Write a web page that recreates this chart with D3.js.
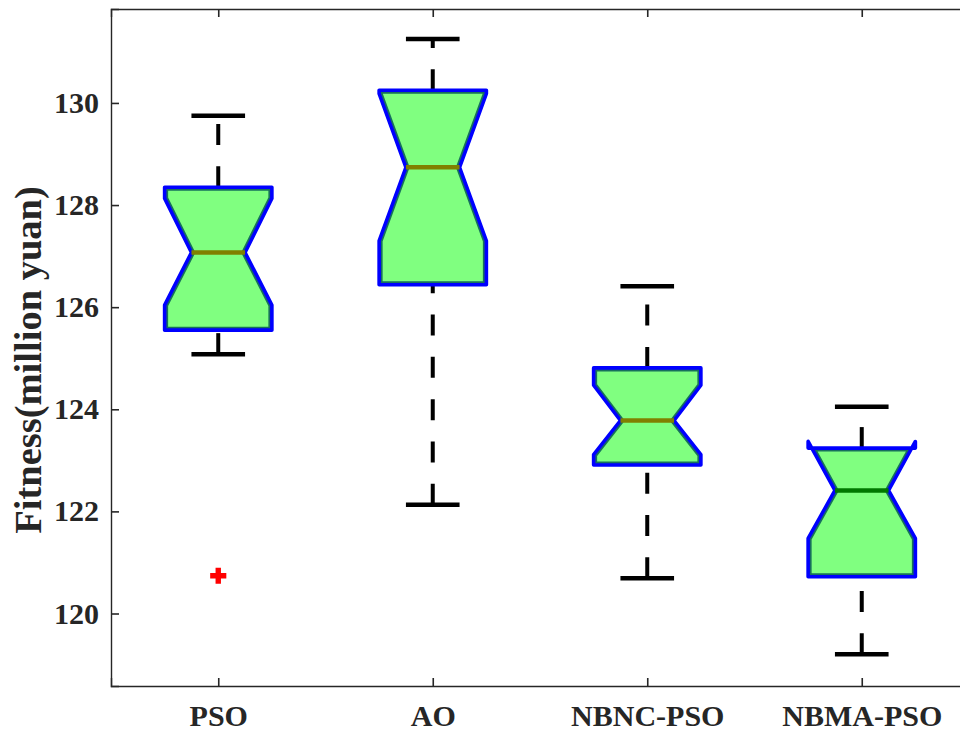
<!DOCTYPE html>
<html>
<head>
<meta charset="utf-8">
<script src="https://cdn.jsdelivr.net/npm/d3@7"></script>
<style>
  html, body { margin: 0; padding: 0; background: #fff; }
  svg { display: block; }
  text { font-family: "Liberation Serif", "Times New Roman", serif; font-weight: bold; fill: #262626; }
</style>
</head>
<body>
<svg id="chart" width="960" height="733"></svg>
<script>
// Notched box-plot statistics for each optimiser
const categories   = ["PSO", "AO", "NBNC-PSO", "NBMA-PSO"];
const upperAdjacent = [129.75, 131.25, 126.41, 124.05];
const upperQuartile = [128.35, 130.25, 124.81, 123.24];
const notchHigh     = [128.13, 130.18, 124.47, 123.37];
const medians       = [127.07, 128.74, 123.78, 122.41];
const notchLow      = [126.04, 127.30, 123.11, 121.47];
const lowerQuartile = [125.55, 126.44, 122.91, 120.72];
const lowerAdjacent = [125.08, 122.13, 120.69, 119.20];
const outlierGroup  = ["PSO"];
const outlierValue  = [120.74];
const yTicks        = [120, 122, 124, 126, 128, 130];
const medianColors  = ["#808000", "#808000", "#808000", "#007800"];

const svg = d3.select("#chart");
const plot = { left: 111, right: 969, top: 9, bottom: 686 };
const axisColor = "#262626";

const x = d3.scaleLinear().domain([0.5, categories.length + 0.5]).range([plot.left, plot.right]);
const y = d3.scaleLinear().domain([118.58, 131.84]).range([plot.bottom, plot.top]);
const pos = c => x(categories.indexOf(c) + 1);

const boxW = x(1.5) - x(1);        // 0.5 category units
const capW = x(1.25) - x(1);       // 0.25 category units

const boxes = categories.map((c, i) => ({
  c, i,
  hi: upperAdjacent[i], q3: upperQuartile[i], nHi: notchHigh[i], med: medians[i],
  nLo: notchLow[i], q1: lowerQuartile[i], lo: lowerAdjacent[i]
}));

// Whiskers: dashed segments drawn from the lower end upward, then caps
const whiskers = svg.append("g");
boxes.forEach(b => {
  const cx = pos(b.c);
  [[b.q3, b.hi], [b.lo, b.q1]].forEach(([from, to]) => {
    whiskers.append("line")
      .attr("x1", cx).attr("x2", cx)
      .attr("y1", y(from)).attr("y2", y(to))
      .attr("stroke", "#000").attr("stroke-width", 4)
      .attr("stroke-dasharray", "21,21.3");
  });
  [b.hi, b.lo].forEach(v => {
    whiskers.append("line")
      .attr("x1", cx - capW / 2).attr("x2", cx + capW / 2)
      .attr("y1", y(v)).attr("y2", y(v))
      .attr("stroke", "#000").attr("stroke-width", 4.5);
  });
});

// Notched boxes
const defs = svg.append("defs");
const boxG = svg.append("g");
boxes.forEach(b => {
  const cx = pos(b.c);
  const L = cx - boxW / 2, R = cx + boxW / 2;
  const wl = cx - boxW / 4, wr = cx + boxW / 4;
  const pts = [
    [L, y(b.q1)], [L, y(b.nLo)], [wl, y(b.med)], [L, y(b.nHi)], [L, y(b.q3)],
    [R, y(b.q3)], [R, y(b.nHi)], [wr, y(b.med)], [R, y(b.nLo)], [R, y(b.q1)]
  ];
  const d = d3.line()(pts) + "Z";
  defs.append("clipPath").attr("id", "clip" + b.i).append("path").attr("d", d);
  boxG.append("path").attr("d", d).attr("fill", "#80ff80");
  boxG.append("path").attr("d", d)
    .attr("fill", "none").attr("stroke", "#17705c").attr("stroke-width", 7)
    .attr("stroke-linejoin", "round")
    .attr("clip-path", "url(#clip" + b.i + ")");
  boxG.append("path").attr("d", d)
    .attr("fill", "none").attr("stroke", "#0000ff").attr("stroke-width", 3.6)
    .attr("stroke-linejoin", "round");
  boxG.append("line")
    .attr("x1", wl).attr("x2", wr)
    .attr("y1", y(b.med)).attr("y2", y(b.med))
    .attr("stroke", medianColors[b.i]).attr("stroke-width", 4.5);
});

// Outliers as red plus markers
const plus = d3.symbol().type(d3.symbolCross).size(145);
svg.append("g").selectAll("path")
  .data(outlierValue.map((v, i) => ({ c: outlierGroup[i], v })))
  .join("path")
  .attr("transform", d => `translate(${pos(d.c)},${y(d.v)})`)
  .attr("d", plus)
  .attr("fill", "#ff0000");

// Axes box with inward ticks
const axG = svg.append("g");
const xTickVals = categories.map((c, i) => i + 1);

const axLeft = d3.axisLeft(y).tickValues(yTicks).tickSize(-8).tickPadding(12).tickFormat(d3.format("d"));
const axRight = d3.axisRight(y).tickValues(yTicks).tickSize(-8).tickFormat("");
const axBottom = d3.axisBottom(x).tickValues(xTickVals).tickSize(-8).tickPadding(19)
  .tickFormat(d => categories[d - 1]);
const axTop = d3.axisTop(x).tickValues(xTickVals).tickSize(-8).tickFormat("");

[[axLeft, `translate(${plot.left},0)`], [axRight, `translate(${plot.right},0)`],
 [axBottom, `translate(0,${plot.bottom})`], [axTop, `translate(0,${plot.top})`]]
  .forEach(([ax, tr]) => {
    const g = axG.append("g").attr("transform", tr).call(ax);
    g.select(".domain").attr("stroke", axisColor).attr("stroke-width", 1.4);
    g.selectAll(".tick line").attr("stroke", axisColor).attr("stroke-width", 1.6);
    g.selectAll(".tick text")
      .attr("fill", axisColor)
      .style("font-family", "'Liberation Serif', 'Times New Roman', serif")
      .style("font-weight", "bold")
      .style("font-size", "30px");
  });

// Y-axis title
svg.append("text")
  .attr("transform", `translate(41,360) rotate(-90)`)
  .attr("text-anchor", "middle")
  .style("font-size", "38.5px")
  .text("Fitness(million yuan)");
</script>
</body>
</html>
